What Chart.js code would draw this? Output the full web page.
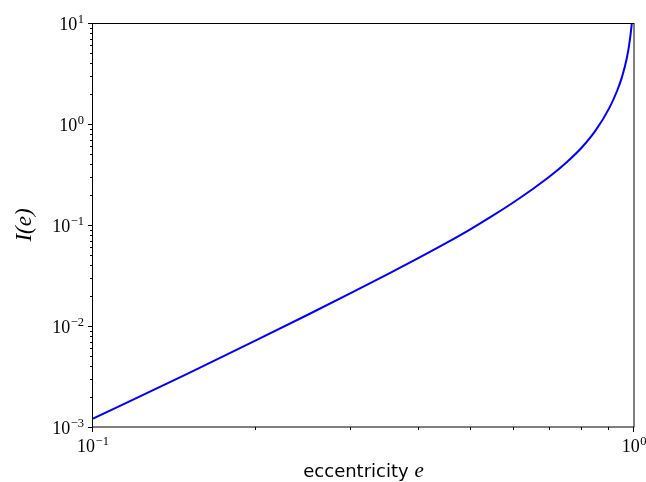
<!DOCTYPE html>
<html>
<head>
<meta charset="utf-8">
<script src="https://cdn.jsdelivr.net/npm/chart.js@4/dist/chart.umd.min.js"></script>
<style>
  body { margin: 0; background: #fff; }
</style>
</head>
<body>
<canvas id="c" width="646" height="482"></canvas>
<script>
// eccentricity values
const eccentricity = [0.1, 0.15, 0.2, 0.25, 0.3, 0.35, 0.4, 0.45, 0.5, 0.55, 0.6, 0.65,
  0.7, 0.75, 0.8, 0.85, 0.9, 0.93, 0.95, 0.97, 0.98, 0.99, 0.995]
const integralI = [0.00121, 0.00340, 0.00719, 0.0130, 0.0213, 0.0325, 0.0472, 0.0664, 0.0916,
  0.125, 0.169, 0.227, 0.305, 0.416, 0.582, 0.869, 1.436, 2.11, 2.91, 4.51, 6.14, 9.59, 13.3]

const xMajorTicks = [0.1, 1]
const yMajorTicks = [0.001, 0.01, 0.1, 1, 10]
const xTickExponents = ['\u22121', '0']
const yTickExponents = ['\u22123', '\u22122', '\u22121', '0', '1']

const lineColor = '#0000ff'
const serif = '"Liberation Serif", "DejaVu Serif", serif'
const sans = '"DejaVu Sans", sans-serif'

function logTicks (min, max, majors) {
  // major decades plus 2..9 minor ticks
  const ticks = []
  for (let d = Math.floor(Math.log10(min)); d <= Math.ceil(Math.log10(max)); d++) {
    for (let k = 1; k <= 9; k++) {
      const v = k * Math.pow(10, d)
      if (v >= min * 0.999 && v <= max * 1.001) {
        ticks.push({ value: v, major: k === 1 && majors.some(m => Math.abs(m - v) < v * 1e-6) })
      }
    }
  }
  return ticks
}

function drawPower (ctx, x, y, exp, align) {
  // "10" with a raised exponent
  ctx.font = '18px ' + serif
  const baseW = ctx.measureText('10').width
  ctx.font = '12.5px ' + serif
  const expW = ctx.measureText(exp).width
  const total = baseW + expW + 0.5
  let left = x
  if (align === 'right') left = x - total
  if (align === 'center') left = x - total / 2
  ctx.textAlign = 'left'
  ctx.textBaseline = 'alphabetic'
  ctx.font = '18px ' + serif
  ctx.fillText('10', left, y)
  ctx.font = '12.5px ' + serif
  ctx.fillText(exp, left + baseW + 0.5, y - 7)
}

const framePlugin = {
  id: 'frame',
  afterDraw (chart) {
    const { ctx, chartArea: a, scales } = chart
    ctx.save()
    ctx.strokeStyle = '#000'
    ctx.lineWidth = 1
    ctx.strokeRect(Math.round(a.left) - 0.5, Math.round(a.top) + 0.5,
      Math.round(a.right - a.left) + 0.5, Math.round(a.bottom - a.top) - 0.5)

    // tick marks
    ctx.beginPath()
    for (const t of scales.x.ticks) {
      const px = Math.round(scales.x.getPixelForValue(t.value)) - 0.5
      const len = t.major ? 5 : 3
      ctx.moveTo(px, a.bottom)
      ctx.lineTo(px, a.bottom + len)
    }
    for (const t of scales.y.ticks) {
      const py = Math.round(scales.y.getPixelForValue(t.value)) + 0.5
      const len = t.major ? 5 : 3
      ctx.moveTo(a.left, py)
      ctx.lineTo(a.left - len, py)
    }
    ctx.stroke()

    // tick labels
    ctx.fillStyle = '#000'
    xMajorTicks.forEach((v, i) => {
      drawPower(ctx, scales.x.getPixelForValue(v), a.bottom + 25, xTickExponents[i], 'center')
    })
    yMajorTicks.forEach((v, i) => {
      drawPower(ctx, a.left - 9, scales.y.getPixelForValue(v) + 6.5, yTickExponents[i], 'right')
    })

    // x axis title
    ctx.font = '18px ' + sans
    const w1 = ctx.measureText('eccentricity ').width
    ctx.font = 'italic 21px ' + serif
    const w2 = ctx.measureText('e').width
    const cx = (a.left + a.right) / 2
    const lx = cx - (w1 + w2) / 2
    ctx.textAlign = 'left'
    ctx.font = '18px ' + sans
    ctx.fillText('eccentricity ', lx, 477)
    ctx.font = 'italic 21px ' + serif
    ctx.fillText('e', lx + w1, 477)

    // y axis title
    ctx.translate(31, (a.top + a.bottom) / 2)
    ctx.rotate(-Math.PI / 2)
    ctx.textAlign = 'center'
    ctx.font = 'italic 23px ' + serif
    ctx.fillText('I(e)', 0, 0)
    ctx.restore()
  }
}

const points = eccentricity.map((e, i) => ({ x: e, y: integralI[i] }))

new Chart(document.getElementById('c'), {
  type: 'line',
  data: {
    datasets: [{
      data: points,
      borderColor: lineColor,
      borderWidth: 2,
      pointRadius: 0,
      cubicInterpolationMode: 'monotone',
      fill: false
    }]
  },
  options: {
    responsive: false,
    animation: false,
    devicePixelRatio: 1,
    layout: { padding: { top: 23, right: 12, left: 0, bottom: 0 } },
    plugins: { legend: { display: false }, tooltip: { enabled: false } },
    scales: {
      x: {
        type: 'logarithmic',
        min: 0.1,
        max: 1,
        grid: { display: false },
        border: { display: false },
        ticks: { display: false },
        afterBuildTicks: (scale) => { scale.ticks = logTicks(0.1, 1, xMajorTicks) },
        afterFit: (scale) => { scale.height = 55 }
      },
      y: {
        type: 'logarithmic',
        min: 0.001,
        max: 10,
        grid: { display: false },
        border: { display: false },
        ticks: { display: false },
        afterBuildTicks: (scale) => { scale.ticks = logTicks(0.001, 10, yMajorTicks) },
        afterFit: (scale) => { scale.width = 93 }
      }
    }
  },
  plugins: [framePlugin]
})
</script>
</body>
</html>
